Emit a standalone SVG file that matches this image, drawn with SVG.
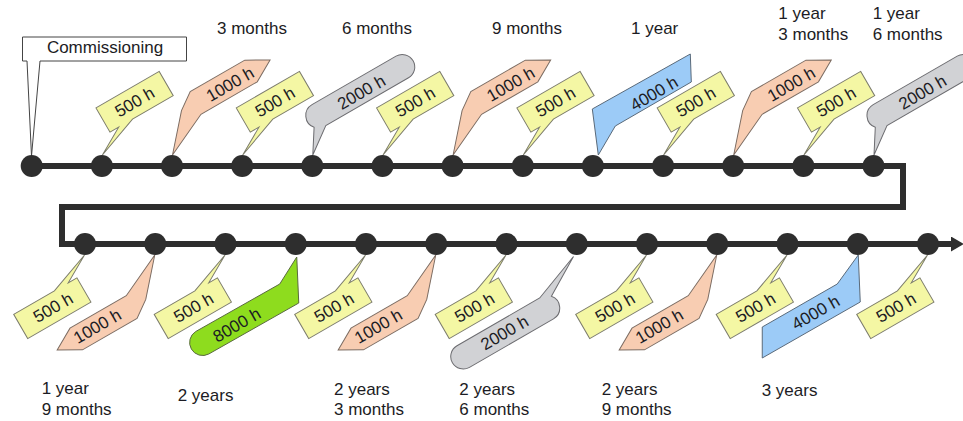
<svg xmlns="http://www.w3.org/2000/svg" width="963" height="421" viewBox="0 0 963 421">
<style>
.lbl{font-family:"Liberation Sans",Arial,sans-serif;font-size:17px;fill:#1c1c24}
.ct{font-family:"Liberation Sans",Arial,sans-serif;font-size:17px;fill:#1c1c24;text-anchor:middle}
.dot{fill:#2e2e2e}
.y{fill:#f4f7a4;stroke:#7c7c6c;stroke-width:1}
.s{fill:#f8cdb2;stroke:#7c6c62;stroke-width:1}
.g{fill:#d1d2d5;stroke:#6c6c70;stroke-width:1}
.b{fill:#9ccbf7;stroke:#5a6a7a;stroke-width:1}
.gr{fill:#8edc1e;stroke:#5a6a40;stroke-width:1}
.cm{fill:#ffffff;stroke:#444;stroke-width:1}
.line{fill:none;stroke:#2e2e2e;stroke-width:6;stroke-linejoin:miter}
</style>
<defs>
<marker id="arr" markerUnits="userSpaceOnUse" markerWidth="14" markerHeight="16" refX="0" refY="7.5" orient="auto"><path d="M0,0 L13,7.5 L0,15 Z" fill="#2e2e2e"/></marker>
<path id="c500" transform="rotate(-30)" d="M0,0 L28,-16 L18,-16 L18,-44 L91,-44 L91,-16 L44,-16 Z"/>
<path id="c1000" transform="rotate(-30)" d="M0,0 L30,-34 L47,-46 L110,-46 L132,-33.5 L110,-21 L45,-21 Z"/>
<path id="c2000" transform="rotate(-30)" d="M0,0 L15,-23.4 A12.5,12.5 0 0 1 24.5,-44 L121.5,-44 A12.5,12.5 0 0 1 121.5,-19 L26,-19 Z"/>
<path id="c2000b" transform="rotate(-30)" d="M0,0 L39,-23.4 A12.5,12.5 0 0 1 48.5,-44 L145.5,-44 A12.5,12.5 0 0 1 145.5,-19 L50,-19 Z"/>
<path id="c4000" d="M0,0 L-6,-46 L92,-101 L93,-73 L17,-29 Z"/>
<path id="c4000b" d="M0,0 L2,47 L-96,103 L-96,72 L-21,29 Z"/>
<path id="c8000" d="M0,0 L2,46 L-88,97 A13,13 0 0 1 -101,74.5 L-17,27 Z"/>
</defs>

<g id="connectors">
<path class="line" d="M31.7,166 H903 V207 H62 V244 H951" marker-end="url(#arr)"/>
</g>

<!-- top row -->
<g id="t00"><path class="cm" d="M22.5,37 H186.5 V61 H40 L31.5,156 L27,61 H22.5 Z"/><text class="ct" x="105" y="53">Commissioning</text><circle class="dot" cx="31.7" cy="166" r="11"/></g>
<g id="t01"><use href="#c500" class="y" transform="translate(102.4,155)"/><text class="ct" transform="translate(134.6,101.8) rotate(-30)" y="6">500 h</text><circle class="dot" cx="101.9" cy="166" r="11"/></g>
<g id="t02"><use href="#c1000" class="s" transform="translate(172.5,155)"/><text class="ct" transform="translate(230,84) rotate(-30)" y="6">1000 h</text><circle class="dot" cx="172" cy="166" r="11"/></g>
<g id="t03"><use href="#c500" class="y" transform="translate(242.7,155)"/><text class="ct" transform="translate(274.9,101.8) rotate(-30)" y="6">500 h</text><circle class="dot" cx="242.2" cy="166" r="11"/></g>
<g id="t04"><use href="#c2000" class="g" transform="translate(312.8,155)"/><text class="ct" transform="translate(361.3,92) rotate(-30)" y="6">2000 h</text><circle class="dot" cx="312.3" cy="166" r="11"/></g>
<g id="t05"><use href="#c500" class="y" transform="translate(383,155)"/><text class="ct" transform="translate(415.2,101.8) rotate(-30)" y="6">500 h</text><circle class="dot" cx="382.5" cy="166" r="11"/></g>
<g id="t06"><use href="#c1000" class="s" transform="translate(453.1,155)"/><text class="ct" transform="translate(510.6,84) rotate(-30)" y="6">1000 h</text><circle class="dot" cx="452.6" cy="166" r="11"/></g>
<g id="t07"><use href="#c500" class="y" transform="translate(523.3,155)"/><text class="ct" transform="translate(555.5,101.8) rotate(-30)" y="6">500 h</text><circle class="dot" cx="522.8" cy="166" r="11"/></g>
<g id="t08"><use href="#c4000" class="b" transform="translate(598.3,155)"/><text class="ct" transform="translate(654,93.3) rotate(-30)" y="6">4000 h</text><circle class="dot" cx="592.9" cy="166" r="11"/></g>
<g id="t09"><use href="#c500" class="y" transform="translate(663.6,155)"/><text class="ct" transform="translate(695.8,101.8) rotate(-30)" y="6">500 h</text><circle class="dot" cx="663.1" cy="166" r="11"/></g>
<g id="t10"><use href="#c1000" class="s" transform="translate(733.7,155)"/><text class="ct" transform="translate(791.2,84) rotate(-30)" y="6">1000 h</text><circle class="dot" cx="733.2" cy="166" r="11"/></g>
<g id="t11"><use href="#c500" class="y" transform="translate(803.9,155)"/><text class="ct" transform="translate(836.1,101.8) rotate(-30)" y="6">500 h</text><circle class="dot" cx="803.4" cy="166" r="11"/></g>
<g id="t12"><use href="#c2000" class="g" transform="translate(874,155)"/><text class="ct" transform="translate(922.5,92) rotate(-30)" y="6">2000 h</text><circle class="dot" cx="873.5" cy="166" r="11"/></g>

<!-- bottom row -->
<g id="b00"><use href="#c500" class="y" transform="translate(84.5,255) rotate(180)"/><text class="ct" transform="translate(53,307.5) rotate(-30)" y="6">500 h</text><circle class="dot" cx="85" cy="244" r="11"/></g>
<g id="b01"><use href="#c1000" class="s" transform="translate(154.75,255) rotate(180)"/><text class="ct" transform="translate(97.25,326) rotate(-30)" y="6">1000 h</text><circle class="dot" cx="155.25" cy="244" r="11"/></g>
<g id="b02"><use href="#c500" class="y" transform="translate(225,255) rotate(180)"/><text class="ct" transform="translate(193.5,307.5) rotate(-30)" y="6">500 h</text><circle class="dot" cx="225.5" cy="244" r="11"/></g>
<g id="b03"><use href="#c8000" class="gr" transform="translate(296.75,257)"/><text class="ct" transform="translate(236.75,324.7) rotate(-30)" y="6">8000 h</text><circle class="dot" cx="295.75" cy="244" r="11"/></g>
<g id="b04"><use href="#c500" class="y" transform="translate(365.5,255) rotate(180)"/><text class="ct" transform="translate(334,307.5) rotate(-30)" y="6">500 h</text><circle class="dot" cx="366" cy="244" r="11"/></g>
<g id="b05"><use href="#c1000" class="s" transform="translate(435.75,255) rotate(180)"/><text class="ct" transform="translate(378.25,326) rotate(-30)" y="6">1000 h</text><circle class="dot" cx="436.25" cy="244" r="11"/></g>
<g id="b06"><use href="#c500" class="y" transform="translate(506,255) rotate(180)"/><text class="ct" transform="translate(474.5,307.5) rotate(-30)" y="6">500 h</text><circle class="dot" cx="506.5" cy="244" r="11"/></g>
<g id="b07"><use href="#c2000b" class="g" transform="translate(573.5,256.5) rotate(180)"/><text class="ct" transform="translate(504.5,332.5) rotate(-30)" y="6">2000 h</text><circle class="dot" cx="576.75" cy="244" r="11"/></g>
<g id="b08"><use href="#c500" class="y" transform="translate(646.5,255) rotate(180)"/><text class="ct" transform="translate(615,307.5) rotate(-30)" y="6">500 h</text><circle class="dot" cx="647" cy="244" r="11"/></g>
<g id="b09"><use href="#c1000" class="s" transform="translate(716.75,255) rotate(180)"/><text class="ct" transform="translate(659.25,326) rotate(-30)" y="6">1000 h</text><circle class="dot" cx="717.25" cy="244" r="11"/></g>
<g id="b10"><use href="#c500" class="y" transform="translate(787,255) rotate(180)"/><text class="ct" transform="translate(755.5,307.5) rotate(-30)" y="6">500 h</text><circle class="dot" cx="787.5" cy="244" r="11"/></g>
<g id="b11"><use href="#c4000b" class="b" transform="translate(858.25,255)"/><text class="ct" transform="translate(815.6,312.3) rotate(-30)" y="6">4000 h</text><circle class="dot" cx="857.75" cy="244" r="11"/></g>
<g id="b12"><use href="#c500" class="y" transform="translate(927.5,255) rotate(180)"/><text class="ct" transform="translate(896,307.5) rotate(-30)" y="6">500 h</text><circle class="dot" cx="928" cy="244" r="11"/></g>

<g id="time-labels">
<text class="lbl" x="217" y="34">3 months</text>
<text class="lbl" x="342" y="34">6 months</text>
<text class="lbl" x="492" y="34">9 months</text>
<text class="lbl" x="631" y="34">1 year</text>
<text class="lbl"><tspan x="778.3" y="18.5">1 year</tspan><tspan x="778.3" y="39.5">3 months</tspan></text>
<text class="lbl"><tspan x="872.7" y="18.5">1 year</tspan><tspan x="872.7" y="39.5">6 months</tspan></text>
<text class="lbl"><tspan x="41.7" y="394">1 year</tspan><tspan x="41.7" y="415">9 months</tspan></text>
<text class="lbl" x="177.7" y="401">2 years</text>
<text class="lbl"><tspan x="334" y="394.5">2 years</tspan><tspan x="334" y="415">3 months</tspan></text>
<text class="lbl"><tspan x="459.3" y="394.5">2 years</tspan><tspan x="459.3" y="415">6 months</tspan></text>
<text class="lbl"><tspan x="601.7" y="394.5">2 years</tspan><tspan x="601.7" y="415">9 months</tspan></text>
<text class="lbl" x="761.7" y="396">3 years</text>
</g>
</svg>
